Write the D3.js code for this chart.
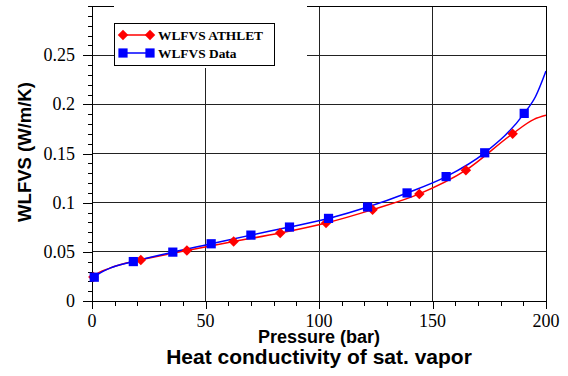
<!DOCTYPE html>
<html>
<head>
<meta charset="utf-8">
<script src="https://cdn.jsdelivr.net/npm/d3@7/dist/d3.min.js"></script>
<style>
    body { margin: 0; background: #fff; }
    svg { display: block; }
</style>
</head>
<body>
<div id="chart"></div>
<script>
// ATHLET correlation: markers (pressure in bar, conductivity in W/m/K)
const athletP = [0.6, 21.5, 41.8, 62.4, 82.9, 103.1, 123.6, 144.2, 164.7, 185.3];
const athletK = [0.0245, 0.0418, 0.0513, 0.0605, 0.0691, 0.0793, 0.0929, 0.1089, 0.1330, 0.1701];
// extra points of the ATHLET curve that carry no marker
const athletCurveP = [0, 7.9, 194.7, 200];
const athletCurveK = [0.022, 0.0334, 0.1847, 0.1888];

// Reference data: markers
const dataP = [1.0, 18.2, 35.6, 52.5, 70.0, 87.0, 104.2, 121.4, 138.8, 156.0, 173.0, 190.4];
const dataK = [0.0242, 0.0401, 0.0497, 0.0582, 0.0670, 0.0752, 0.0840, 0.0956, 0.1099, 0.1265, 0.1507, 0.1908];
const dataCurveP = [0, 7.9, 195.4, 200];
const dataCurveK = [0.022, 0.0334, 0.208, 0.234];

const xTicks = [0, 50, 100, 150, 200];
const yTicks = [0, 0.05, 0.1, 0.15, 0.2, 0.25];
const seriesNames = ["WLFVS ATHLET", "WLFVS Data"];

const W = 568, H = 376;
const plot = {left: 92, right: 546, top: 6, bottom: 301};
const serif = "Liberation Serif, Times New Roman, serif";
const sans = "Liberation Sans, Arial, sans-serif";

const svg = d3.select("#chart").append("svg")
    .attr("width", W)
    .attr("height", H);

const x = d3.scaleLinear().domain([0, 200]).range([plot.left, plot.right]);
const y = d3.scaleLinear().domain([0, 0.3]).range([plot.bottom, plot.top]);

const zip = (a, b) => a.map((v, i) => ({p: v, k: b[i]}));
const curve = (p, k, cp, ck) => zip(p, k).concat(zip(cp, ck)).sort((a, b) => a.p - b.p);

// grid lines
const grid = svg.append("g").attr("shape-rendering", "crispEdges");
grid.selectAll(".gy").data(yTicks.slice(1)).enter().append("line")
    .attr("x1", plot.left).attr("x2", plot.right)
    .attr("y1", d => y(d)).attr("y2", d => y(d))
    .attr("stroke", "#222");
grid.selectAll(".gx").data(xTicks.slice(1, -1)).enter().append("line")
    .attr("x1", d => x(d)).attr("x2", d => x(d))
    .attr("y1", plot.top).attr("y2", plot.bottom)
    .attr("stroke", "#222");

// frame
svg.append("rect")
    .attr("x", plot.left).attr("y", plot.top)
    .attr("width", plot.right - plot.left).attr("height", plot.bottom - plot.top)
    .attr("fill", "none").attr("stroke", "#000")
    .attr("shape-rendering", "crispEdges");

// axes: tick marks from d3 axes, labels added as plain text
const yMinor = d3.range(0, 31).map(i => i / 100);
svg.append("g").attr("transform", `translate(${plot.left},0)`)
    .call(d3.axisLeft(y).tickValues(yMinor).tickSize(4).tickFormat(""))
    .call(g => g.select(".domain").remove())
    .attr("shape-rendering", "crispEdges");
svg.append("g").attr("transform", `translate(${plot.left},0)`)
    .call(d3.axisLeft(y).tickValues(yTicks).tickSize(9).tickFormat(""))
    .call(g => g.select(".domain").remove())
    .attr("shape-rendering", "crispEdges");

const xMinor = d3.range(0, 201, 10);
svg.append("g").attr("transform", `translate(0,${plot.bottom})`)
    .call(d3.axisBottom(x).tickValues(xMinor).tickSize(5).tickFormat(""))
    .call(g => g.select(".domain").remove())
    .attr("shape-rendering", "crispEdges");
svg.append("g").attr("transform", `translate(0,${plot.bottom})`)
    .call(d3.axisBottom(x).tickValues(xTicks).tickSize(8).tickFormat(""))
    .call(g => g.select(".domain").remove())
    .attr("shape-rendering", "crispEdges");

svg.selectAll(".ylab").data(yTicks).enter().append("text")
    .attr("class", "ylab")
    .attr("x", plot.left - 17)
    .attr("y", d => y(d) + 6)
    .attr("text-anchor", "end")
    .attr("font-family", serif).attr("font-size", 18)
    .text(d => String(+d.toFixed(2)));
svg.selectAll(".xlab").data(xTicks).enter().append("text")
    .attr("class", "xlab")
    .attr("x", d => x(d))
    .attr("y", plot.bottom + 26)
    .attr("text-anchor", "middle")
    .attr("font-family", serif).attr("font-size", 18)
    .text(d => d);

// curves
const line = d3.line().x(d => x(d.p)).y(d => y(d.k)).curve(d3.curveMonotoneX);
svg.append("clipPath").attr("id", "plotclip").append("rect")
    .attr("x", plot.left).attr("y", plot.top)
    .attr("width", plot.right - plot.left).attr("height", plot.bottom - plot.top);

svg.append("path")
    .datum(curve(athletP, athletK, athletCurveP, athletCurveK))
    .attr("clip-path", "url(#plotclip)")
    .attr("d", line).attr("fill", "none")
    .attr("stroke", "#ff0000").attr("stroke-width", 1.5);
svg.append("path")
    .datum(curve(dataP, dataK, dataCurveP, dataCurveK))
    .attr("clip-path", "url(#plotclip)")
    .attr("d", line).attr("fill", "none")
    .attr("stroke", "#0000ff").attr("stroke-width", 1.5);

// markers
const diamond = d3.symbol().type(d3.symbolDiamond2).size(70);
const square = d3.symbol().type(d3.symbolSquare).size(85);

svg.selectAll(".athlet").data(zip(athletP, athletK)).enter().append("path")
    .attr("class", "athlet")
    .attr("transform", d => `translate(${x(d.p)},${y(d.k)})`)
    .attr("d", diamond).attr("fill", "#ff0000");
svg.selectAll(".data").data(zip(dataP, dataK)).enter().append("path")
    .attr("class", "data")
    .attr("transform", d => `translate(${x(d.p)},${y(d.k)})`)
    .attr("d", square).attr("fill", "#0000ff");

// legend (white area behind it hides the grid)
svg.append("rect")
    .attr("x", 114).attr("y", 5).attr("width", 193).attr("height", 63)
    .attr("fill", "#fff");
svg.append("rect")
    .attr("x", 114.5).attr("y", 23.5).attr("width", 160).attr("height", 42)
    .attr("fill", "#fff").attr("stroke", "#000");

const legendRows = [
    {name: seriesNames[0], color: "#ff0000", sym: diamond, y: 35},
    {name: seriesNames[1], color: "#0000ff", sym: square, y: 53}
];
const lg = svg.selectAll(".legend").data(legendRows).enter().append("g")
    .attr("class", "legend");
lg.append("line")
    .attr("x1", 123).attr("x2", 150)
    .attr("y1", d => d.y).attr("y2", d => d.y)
    .attr("stroke", d => d.color).attr("stroke-width", 1.5);
[123, 150].forEach(px => {
    lg.append("path")
        .attr("transform", d => `translate(${px},${d.y})`)
        .attr("d", d => d.sym()).attr("fill", d => d.color);
});
lg.append("text")
    .attr("x", 158).attr("y", d => d.y + 5)
    .attr("font-family", serif)
    .attr("font-weight", "bold").attr("font-size", 13.4)
    .text(d => d.name);

// axis titles
svg.append("text")
    .attr("transform", "translate(31,152) rotate(-90)")
    .attr("text-anchor", "middle")
    .attr("font-family", sans)
    .attr("font-weight", "bold").attr("font-size", 18.5)
    .text("WLFVS (W/m/K)");
svg.append("text")
    .attr("x", 319).attr("y", 343)
    .attr("text-anchor", "middle")
    .attr("font-family", sans)
    .attr("font-weight", "bold").attr("font-size", 18)
    .text("Pressure (bar)");
svg.append("text")
    .attr("x", 319).attr("y", 364)
    .attr("text-anchor", "middle")
    .attr("font-family", sans)
    .attr("font-weight", "bold").attr("font-size", 21)
    .text("Heat conductivity of sat. vapor");
</script>
</body>
</html>
